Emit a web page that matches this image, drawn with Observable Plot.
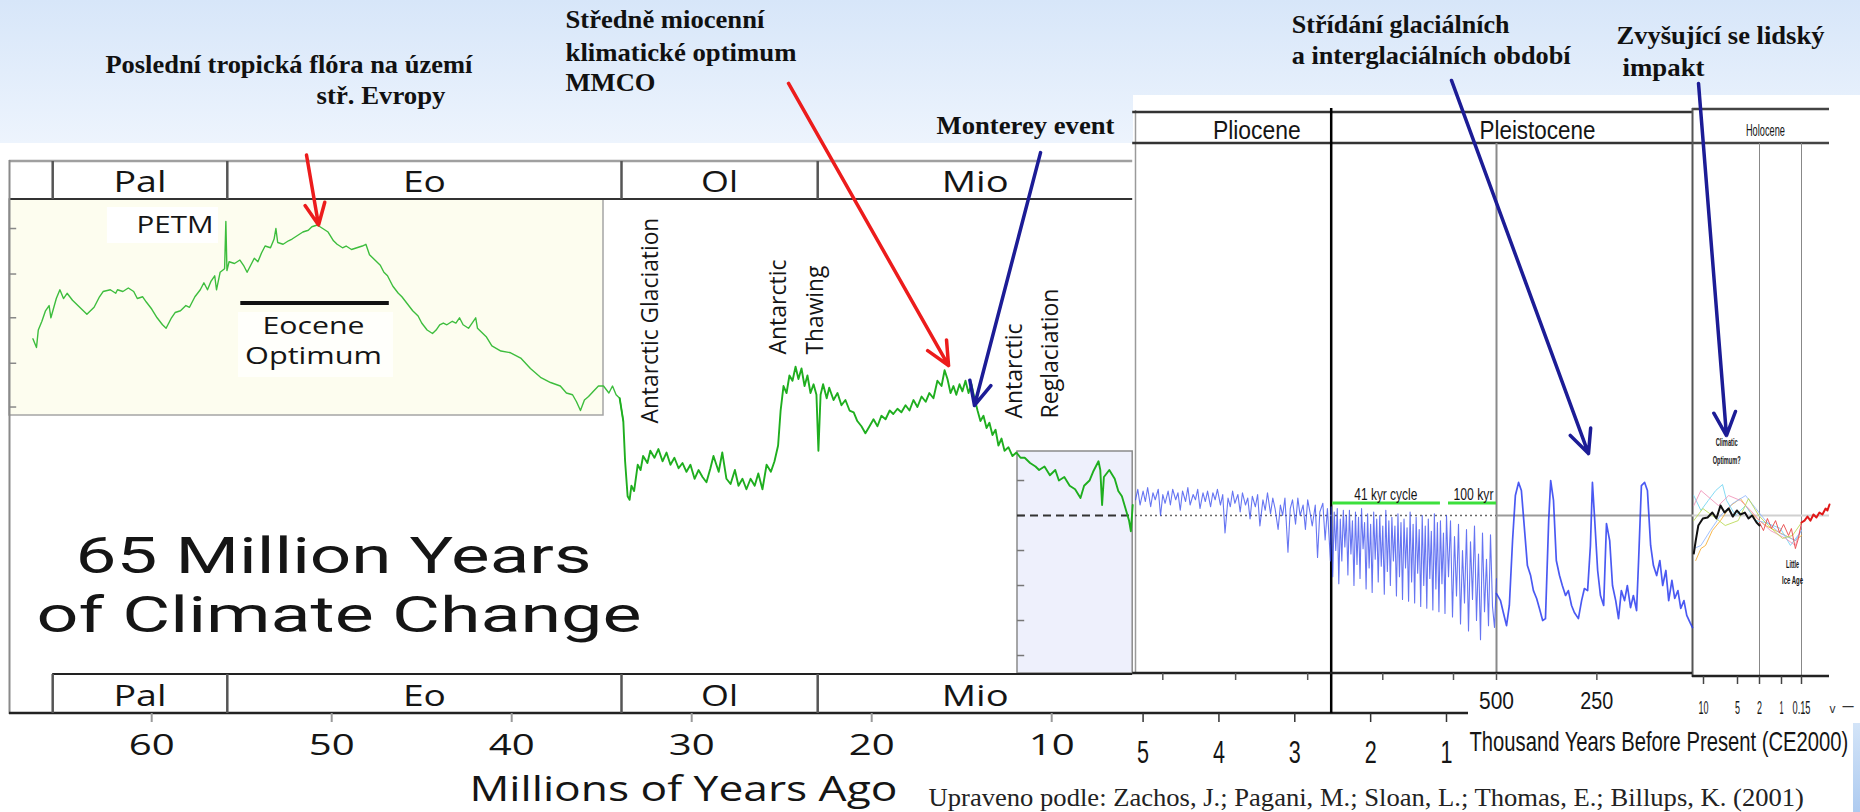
<!DOCTYPE html>
<html><head><meta charset="utf-8">
<script src="https://cdn.jsdelivr.net/npm/d3@7"></script>
<script src="https://cdn.jsdelivr.net/npm/@observablehq/plot@0.6"></script>
<style>
html,body{margin:0;padding:0;background:#fff;}
#wrap{position:relative;width:1860px;height:812px;overflow:hidden;background:#fff;}
#band{position:absolute;left:0;top:0;width:1860px;height:143px;background:linear-gradient(#d7e6f9,#edf4fd);}
#whiteTop{position:absolute;left:1133px;top:95px;width:727px;height:60px;background:#fff;}
#strip{position:absolute;left:1853px;top:723px;width:7px;height:89px;background:linear-gradient(#d3e4f8,#aecbf0);}
#chart{position:absolute;left:0;top:0;}
</style></head>
<body><div id="wrap"><div id="band"></div><div id="whiteTop"></div><div id="strip"></div><div id="chart"></div></div>
<script>
// ---------- DATA ----------
const epochNames = ["Pal", "Eo", "Ol", "Mio"];
const epochStart = [65.5, 55.8, 33.9, 23.0];
const epochEnd = [55.8, 33.9, 23.0, 5.5];
const ageTicks = [60, 50, 40, 30, 20, 10];
const leftTickT = [16.4, 13.8, 11.3, 8.7, 6.2];
const lavTickT = [2, 0, -2, -4, -6, -8];

const greenCurve = [
[66.6,10.1],[66.4,9.6],[66.3,10.6],[66.1,11.1],[65.9,11.7],[65.7,12.0],[65.6,11.3],[65.3,12.4],[65.1,12.9],[64.9,12.4],[64.7,12.7],[64.4,12.3],[64.1,12.0],[63.8,11.7],[63.6,11.5],[63.2,11.9],[62.9,12.5],[62.7,12.8],[62.3,12.9],[62.0,12.7],[61.9,12.9],[61.6,12.8],[61.3,13.0],[61.0,12.8],[60.8,12.4],[60.5,12.5],[60.3,12.2],[60.0,11.8],[59.7,11.3],[59.4,10.9],[59.2,10.7],[58.9,11.3],[58.7,11.6],[58.4,11.7],[58.1,12.0],[57.9,11.9],[57.6,12.5],[57.3,12.9],[57.1,13.3],[56.9,12.9],[56.7,13.4],[56.5,13.7],[56.4,12.9],[56.2,13.9],[55.95,14.1],[55.88,16.8],[55.82,14.0],[55.7,14.5],[55.4,14.4],[55.1,14.6],[54.9,14.3],[54.7,13.9],[54.6,14.1],[54.3,14.7],[54.1,14.5],[53.9,15.0],[53.7,15.4],[53.4,15.3],[53.2,15.8],[53.1,16.4],[53.0,15.6],[52.7,15.5],[52.4,15.7],[52.2,15.8],[51.9,16.0],[51.6,16.2],[51.3,16.3],[51.1,16.5],[50.8,16.6],[50.5,16.4],[50.2,16.2],[49.9,15.7],[49.7,15.5],[49.4,15.3],[49.2,15.4],[48.9,15.2],[48.6,15.3],[48.3,15.4],[48.1,15.5],[47.9,14.9],[47.6,14.6],[47.3,14.3],[47.1,13.9],[46.9,13.7],[46.6,13.1],[46.3,12.7],[46.1,12.5],[45.8,12.1],[45.5,11.7],[45.2,11.4],[45.0,11.0],[44.7,10.6],[44.4,10.4],[44.2,10.6],[44.0,10.9],[43.8,11.0],[43.6,10.9],[43.3,11.1],[43.1,11.0],[42.9,11.3],[42.7,10.9],[42.4,10.7],[42.2,11.0],[42.0,11.3],[41.9,10.7],[41.7,10.5],[41.4,10.2],[41.1,9.7],
[40.6,9.4],[40.06,9.3],[39.5,9.0],[38.96,8.4],[38.4,7.9],[37.84,7.6],[37.3,7.4],[36.96,7.0],[36.62,6.9],[36.4,6.5],[36.18,6.0],[35.96,6.6],[35.73,6.8],[35.46,7.1],[35.18,7.4],[34.9,7.4],[34.6,7.0],[34.4,7.4],[34.2,6.9],[34.0,6.7],
[33.8,5.4],[33.7,3.1],[33.56,1.1],[33.45,0.9],[33.35,1.7],[33.2,1.4],[33.0,2.9],[32.84,2.6],[32.7,3.4],[32.46,3.0],[32.3,3.7],[32.07,3.3],[31.85,3.8],[31.62,3.1],[31.4,3.6],[31.18,2.9],[30.96,3.3],[30.73,2.7],[30.51,3.0],[30.29,2.5],[30.07,2.9],[29.84,2.1],[29.62,2.6],[29.4,2.2],[29.18,1.9],[28.96,2.7],[28.79,3.4],[28.5,2.5],[28.3,3.6],[28.07,2.1],[27.84,1.8],[27.6,2.6],[27.4,1.7],[27.18,2.1],[26.96,1.5],[26.73,2.1],[26.5,1.7],[26.3,2.4],[26.07,1.5],[25.84,2.9],[25.6,2.5],[25.4,3.1],[25.2,4.0],[25.06,6.0],[24.9,7.4],[24.73,7.0],[24.57,8.0],[24.4,7.7],[24.23,8.5],[24.07,7.8],[23.9,8.4],[23.73,7.4],[23.57,8.0],[23.4,7.0],[23.23,7.5],[23.07,6.9],[22.96,3.7],[22.84,6.9],[22.7,7.5],[22.5,6.7],[22.36,7.3],[22.12,6.6],[21.9,7.0],[21.68,6.3],[21.46,6.6],[21.23,6.0],[21.0,5.9],[20.8,5.4],[20.57,5.1],[20.35,4.7],[20.12,5.1],[19.9,5.5],[19.68,5.1],[19.46,5.7],[19.23,5.5],[19.0,6.0],[18.8,5.8],[18.57,6.1],[18.35,5.9],[18.12,6.3],[17.9,6.0],[17.68,6.6],[17.46,6.2],[17.23,6.8],[17.0,6.5],[16.8,7.0],[16.57,6.7],[16.35,7.7],[16.12,7.4],[15.95,8.3],[15.79,7.8],[15.62,7.0],[15.46,7.4],[15.3,6.9],[15.12,7.5],[14.96,7.1],[14.79,7.7],[14.62,7.0],[14.46,7.5],[14.29,6.7],[14.12,6.0],[13.96,5.4],[13.79,5.7],[13.62,5.0],[13.46,5.3],[13.29,4.6],[13.12,4.9],[12.96,4.0],[12.79,4.4],[12.62,3.7],[12.4,3.9],[12.18,3.4],[11.96,3.6],[11.73,3.3],
[11.5,3.3],[11.2,3.0],[10.9,2.8],[10.7,2.6],[10.4,2.8],[10.1,2.3],[9.8,2.6],[9.6,2.0],[9.3,2.2],[9.0,1.7],[8.7,1.5],[8.4,1.0],[8.2,1.7],[7.9,2.0],[7.7,2.5],[7.4,3.1],[7.3,2.6],[7.2,0.6],[7.1,2.2],[6.8,2.6],[6.5,2.1],[6.3,1.4],[6.1,1.1],[5.9,0.4],[5.7,-0.3],[5.6,-0.9],[5.5,0.6]
];

const plioCurve = [
[5.10,0.9],[5.07,1.5],[5.04,0.6],[5.00,1.4],[4.97,0.8],[4.94,1.6],[4.90,0.5],[4.87,1.3],[4.84,0.9],[4.80,1.5],[4.77,0.0],[4.74,1.2],[4.71,0.7],[4.67,1.4],[4.64,0.6],[4.61,1.5],[4.57,0.9],[4.54,1.3],[4.51,0.3],[4.48,1.4],[4.44,0.8],[4.41,1.6],[4.38,0.6],[4.34,1.2],[4.31,0.9],[4.28,1.5],[4.25,0.4],[4.21,1.3],[4.18,0.8],[4.15,1.4],[4.11,0.5],[4.08,1.3],[4.05,0.9],[4.02,1.5],[3.98,0.6],[3.95,1.2],[3.92,-1.0],[3.88,1.0],[3.85,0.5],[3.82,1.4],[3.79,0.7],[3.75,1.2],[3.72,0.2],[3.69,1.3],[3.65,0.6],[3.62,1.0],[3.59,-0.2],[3.56,1.1],[3.52,0.5],[3.49,1.2],[3.46,-0.6],[3.42,0.9],[3.39,0.3],[3.36,1.3],[3.32,0.1],[3.29,1.0],[3.26,0.4],[3.22,-0.8],[3.19,0.6],[3.16,0.0],[3.13,1.0],[3.09,-2.1],[3.06,0.4],[3.03,0.9],[2.99,-0.5],[2.96,1.0],[2.93,0.0],[2.89,0.6],[2.86,-0.8],[2.83,0.9],[2.80,0.2],[2.77,-0.6],[2.73,0.6],[2.70,-2.4],[2.67,0.2],[2.63,0.7],[2.60,-1.4],[2.57,0.4],[2.53,-2.6]
];
const pleistoCurve = [
[2.52,0.5],[2.50,-3.5],[2.48,0.2],[2.46,-2.0],[2.44,0.4],[2.42,-3.9],[2.40,-0.2],[2.38,-2.6],[2.36,0.3],[2.34,-1.8],[2.32,0.0],[2.30,-3.4],[2.28,0.3],[2.26,-2.2],[2.24,-0.3],[2.22,-4.0],[2.20,0.2],[2.18,-2.8],[2.16,-0.1],[2.14,-3.6],[2.12,0.4],[2.10,-1.9],[2.08,-0.4],[2.06,-4.2],[2.04,0.1],[2.02,-3.0],[2.00,-0.5],[1.98,-4.4],[1.96,0.2],[1.94,-2.5],[1.92,-0.2],[1.90,-3.8],[1.88,0.0],[1.86,-2.9],[1.84,-0.6],[1.82,-4.5],[1.80,0.3],[1.78,-3.2],[1.76,-0.3],[1.74,-4.0],[1.72,-0.1],[1.70,-2.6],[1.68,-0.6],[1.66,-4.6],[1.64,0.1],[1.62,-3.5],[1.60,-0.4],[1.58,-4.8],[1.56,-0.2],[1.54,-3.0],[1.52,-0.7],[1.50,-4.9],[1.48,0.2],[1.46,-3.8],[1.44,-0.5],[1.42,-5.0],[1.40,-0.1],[1.38,-3.3],[1.36,-0.8],[1.34,-5.2],[1.32,0.0],[1.30,-4.0],[1.28,-0.6],[1.26,-5.3],[1.24,-0.2],[1.22,-3.6],[1.20,-0.9],[1.18,-5.4],[1.16,0.1],[1.14,-4.2],[1.12,-0.4],[1.10,-5.5],[1.08,-0.3],[1.06,-3.9],[1.04,-1.0],[1.02,-5.6],[1.00,0.0],
[0.98,-3.5],[0.96,-0.3],[0.94,-5.8],[0.92,-1.2],[0.90,-4.6],[0.88,-0.5],[0.86,-6.2],[0.84,-2.0],[0.82,-5.0],[0.80,-0.8],[0.78,-6.6],[0.76,-1.5],[0.74,-4.8],[0.72,-0.6],[0.70,-6.0],[0.68,-2.2],[0.66,-7.1],[0.64,-1.0],[0.62,-5.5],[0.60,-2.5],[0.58,-6.3],[0.56,-1.1],[0.54,-5.2],[0.52,-6.4],[0.50,-3.6]
];
const lateCurve = [
[500,-4.46],[490,-4.86],[483,-5.54],[475,-6.29],[468,-5.14],[460,-1.43],[453,1.14],[445,1.89],[438,1.43],[430,-0.86],[423,-2.86],[415,-3.43],[408,-4.29],[400,-4.74],[393,-5.31],[385,-6.0],[378,-5.89],[370,-0.29],[365,2.0],[358,0.86],[351,-2.57],[343,-3.43],[336,-4.0],[328,-4.57],[321,-4.29],[313,-5.14],[306,-5.54],[296,-5.89],[288,-4.86],[281,-4.17],[273,-4.29],[266,-1.71],[261,1.89],[256,0.0],[248,-3.14],[241,-4.57],[233,-5.14],[226,-0.46],[218,-1.43],[211,-4.0],[203,-4.86],[196,-5.89],[189,-4.29],[181,-4.86],[174,-4.0],[166,-5.26],[159,-4.57],[151,-5.43],[146,-2.57],[139,1.71],[131,1.89],[124,1.43],[116,-1.71],[109,-2.86],[101,-3.43],[93,-2.57],[86,-4.0],[78,-3.14],[71,-4.86],[63,-3.71],[56,-4.74],[48,-4.29],[41,-5.31],[33,-4.86],[26,-5.71],[18,-6.11],[11.7,-6.4]
];
const holoMean = [[11.5,-2.17],[11.2,-1.43],[10.8,-0.57],[10.1,-0.17],[9.4,-0.11],[8.7,0.17],[8.1,-0.17],[7.5,0.57],[6.9,0.17],[6.3,0.4],[5.7,-0.06],[5.1,0.29],[4.6,0.06],[4.0,0.17],[3.5,-0.17],[3.0,0.0],[2.4,-0.4],[2.0,-0.57]];
const holoOrange = [[11.2,-2.57],[10.4,-1.89],[9.7,-1.71],[8.7,-0.86],[7.5,-0.29],[6.0,0.57],[4.6,0.97],[3.2,0.17],[2.0,-0.29],[1.73,-0.57],[1.27,-0.86],[0.83,-1.14],[0.41,-1.43],[0.15,-1.14]];
const holoCyan = [[11.5,1.14],[10.4,0.29],[9.3,0.86],[8.2,1.43],[7.2,1.77],[6.6,0.86],[5.3,0.0],[3.9,0.57],[2.5,-0.29],[1.73,-0.4],[1.05,-0.74],[0.62,-1.71],[0.15,-0.86]];
const holoPink = [[11.5,0.57],[10.4,1.43],[9.0,0.97],[7.8,0.57],[6.3,1.14],[4.6,0.86],[3.2,0.29],[2.0,-0.29],[1.5,-0.86],[0.83,-1.31],[0.41,-1.71],[0.15,-0.57]];
const holoBlue = [[11.5,-1.89],[10.4,-1.71],[9.0,-0.86],[7.5,0.0],[5.7,0.69],[3.9,1.14],[2.5,0.4],[1.73,-0.29],[1.05,-1.03],[0.41,-1.43],[0.15,-0.86]];
const holoYellow = [[11.5,-0.29],[10.1,0.4],[8.7,0.0],[6.8,-0.57],[4.9,-0.29],[3.5,0.97],[2.1,0.0],[1.6,-0.57],[0.96,-1.31],[0.53,-1.14],[0.15,-0.4]];
const holoRedProxy = [[2.0,-0.4],[1.82,-0.86],[1.64,-0.17],[1.45,-0.74],[1.27,-0.29],[1.09,-0.97],[0.91,-0.51],[0.70,-1.14],[0.58,-0.74],[0.41,-1.89],[0.28,-1.31],[0.15,-0.4]];
const instrumental = [[0.15,-0.4],[0.134,-0.29],[0.118,-0.06],[0.102,-0.29],[0.086,0.06],[0.070,-0.11],[0.054,0.17],[0.038,0.06],[0.021,0.4],[0.011,0.29],[0.0,0.63]];

const plioTicks = [5, 4, 3, 2, 1];
const plioMinorTicks = [4.74, 3.78, 2.83, 1.84, 0.93];
const kyrTicks = [500, 250];
const holoTicks = [10, 5, 2, 1, 0.15];
const holoTickLabels = ["10", "5", "2", "1", "0.15"];
const plioPleistoBoundary = 2.52, pleistoHoloBoundary = 0.0117;

const redArrows = [
  {x1: 51.4, y1: 20.6, x2: 50.73, y2: 16.6},
  {x1: 24.62, y1: 24.69, x2: 15.73, y2: 8.57}
];
const navyArrows = [
  {x1: 10.62, y1: 20.74, x2: 14.29, y2: 6.29},
  {x1: 0.95, y1: 24.86, x2: 0.2708, y2: 3.54},
  {x1: 0.01077, y1: 24.69, x2: 0.00662, y2: 4.57}
];

// ---------- CHART ----------
const W = 1860, H = 812;
const timeWarp = d3.scaleLinear()
  .domain([67.9, 5.5, 5.1, 1, 0.5, 0.0117, 0.010, 0.005, 0.002, 0.001, 0.00015, 0])
  .range([9, 1132.2, 1135, 1446, 1496, 1692, 1703, 1737, 1759, 1781, 1801, 1829]);
const X = v => timeWarp(v);

const hl = (x1, x2, y, w, color) => Plot.rect([0], {x1: () => X(x1), x2: () => X(x2), insetTop: y - w / 2, insetBottom: H - y - w / 2, fill: color});
const vl = (xs, top, bottom, w, color) => Plot.ruleX(xs, {x: d => X(d), insetTop: top, insetBottom: H - bottom, stroke: color, strokeWidth: w});
const box = (x1, x2, top, bottom, o) => Plot.rect([0], {x1: () => X(x1), x2: () => X(x2), insetTop: top, insetBottom: H - bottom, ...o});
const hz = (yv, x1, x2, o) => Plot.ruleY(yv, {y: d => d, x1: () => X(x1), x2: () => X(x2), ...o});

const widthMap = new Map();
function T(items, o) {
  for (const d of items) widthMap.set(d.t + "|" + o.fontSize, d.w);
  return Plot.text(items, {x: d => X(d.x), text: d => d.t, frameAnchor: "top", lineAnchor: "bottom", fill: "#151515", ...o});
}
const SANS = "'Open Sans', 'DejaVu Sans', sans-serif";
const TITLE = "Roboto, 'Open Sans', sans-serif";
const ARIAL = "'Liberation Sans', Arial, sans-serif";
const SERIF = "'Liberation Serif', 'Times New Roman', serif";

const epochMid = epochNames.map((n, i) => ({t: n, x: (epochStart[i] + epochEnd[i]) / 2, w: [53, 43, 37, 67][i]}));
const xy = {x: d => X(d[0]), y: d => d[1]};
const xyk = {x: d => X(d[0] / 1000), y: d => d[1]};
const serifBold = {fontSize: 26, fontWeight: "bold", fontFamily: SERIF, textAnchor: "start", fill: "#111"};

const marks = [
  box(67.9, 34.9, 199, 415, {fill: "#fdfdef", stroke: "#a5a5a5", strokeWidth: 1.5}),
  box(11.9, 5.5, 451, 673, {fill: "#eef0fc", stroke: "#8a8a8a", strokeWidth: 1.5}),
  box(62.46, 56.29, 207, 243, {fill: "#ffffff"}),
  box(55.18, 46.57, 312, 377, {fill: "#fffffb"}),
  hl(67.9, 5.5, 161, 2.5, "#a0a0a0"),
  hl(67.9, 5.5, 199, 2, "#333"),
  vl([67.9], 160, 714, 2, "#8a8a8a"),
  vl(epochStart, 161, 199, 2.5, "#555"),
  hl(65.5, 5.5, 674, 2, "#222"),
  hl(67.9, 0.78, 713, 2.5, "#222"),
  vl(epochStart, 674, 713, 2.5, "#555"),
  vl(ageTicks, 713, 722, 2, "#9a9a9a"),
  hz(leftTickT, 67.9, 67.5, {stroke: "#888", strokeWidth: 1.5}),
  hz(lavTickT, 11.9, 11.5, {stroke: "#777", strokeWidth: 1.5}),
  hz([0], 11.9, 5.5, {stroke: "#333", strokeWidth: 2, strokeDasharray: "8,5"}),
  box(55.05, 46.8, 301, 305, {fill: "#111"}),
  vl([5.1], 110, 673, 1.5, "#9a9a9a"),
  hl(5.5, pleistoHoloBoundary, 112, 2.5, "#333"),
  hl(5.5, pleistoHoloBoundary, 143, 2.5, "#333"),
  hl(pleistoHoloBoundary, 0, 109, 2.5, "#444"),
  hl(pleistoHoloBoundary, 0, 143, 2.5, "#444"),
  vl([pleistoHoloBoundary], 108, 677, 2, "#555"),
  vl([0.002, 0.00015], 143, 677, 1, "#888"),
  vl([0.5], 143, 673, 2, "#8a8a8a"),
  vl([plioPleistoBoundary], 108, 713, 2.5, "#000"),
  hz([0], 5.1, 0.5, {stroke: "#666", strokeWidth: 1.5, strokeDasharray: "2,3"}),
  hz([0], 0.5, pleistoHoloBoundary, {stroke: "#9a9a9a", strokeWidth: 2}),
  hz([0], pleistoHoloBoundary, 0, {stroke: "#d0d0d0", strokeWidth: 2}),
  box(2.50, 1.08, 501.5, 504.5, {fill: "#3ce03c"}),
  box(0.98, 0.5, 501.5, 504.5, {fill: "#3ce03c"}),
  hl(5.5, pleistoHoloBoundary, 673, 2.5, "#222"),
  vl([...plioMinorTicks, ...kyrTicks.map(k => k / 1000)], 673, 680, 1.5, "#555"),
  vl(plioTicks, 713, 722, 1.5, "#333"),
  hl(pleistoHoloBoundary, 0, 676, 2.5, "#222"),
  vl(holoTicks.map(k => k / 1000), 676, 684, 1.5, "#444"),
  // data
  Plot.line(greenCurve, {...xy, filter: d => d[0] >= 33.8, stroke: "#3dbd3d", strokeWidth: 1.4}),
  Plot.line(greenCurve, {...xy, filter: d => d[0] <= 34.0, stroke: "#1fae1f", strokeWidth: 1.9}),
  Plot.line([...plioCurve, ...pleistoCurve], {...xy, stroke: "#3347ee", strokeWidth: 1.1, strokeOpacity: 0.75}),
  Plot.line(lateCurve, {...xyk, stroke: "#2a3cf0", strokeWidth: 1.7, strokeOpacity: 0.85}),
  Plot.line(holoOrange, {...xyk, stroke: "#f5a623", strokeWidth: 1, strokeOpacity: 0.8}),
  Plot.line(holoCyan, {...xyk, stroke: "#6fd3f2", strokeWidth: 1, strokeOpacity: 0.85}),
  Plot.line(holoPink, {...xyk, stroke: "#f08cb4", strokeWidth: 1, strokeOpacity: 0.8}),
  Plot.line(holoBlue, {...xyk, stroke: "#8fb6ff", strokeWidth: 1, strokeOpacity: 0.85}),
  Plot.line(holoYellow, {...xyk, stroke: "#b8d850", strokeWidth: 1, strokeOpacity: 0.85}),
  Plot.line(holoRedProxy, {...xyk, stroke: "#e84040", strokeWidth: 1, strokeOpacity: 0.85}),
  Plot.line(holoMean, {...xyk, stroke: "#111", strokeWidth: 2}),
  Plot.line(instrumental, {...xyk, stroke: "#e01818", strokeWidth: 2}),
  // left panel texts
  T(epochMid, {dy: 191, fontSize: 30, fontFamily: SANS, textAnchor: "middle"}),
  T(epochMid, {dy: 705, fontSize: 30, fontFamily: SANS, textAnchor: "middle"}),
  T(ageTicks.map(a => ({t: String(a), x: a, w: 46})), {dy: 754, fontSize: 29, fontFamily: SANS, textAnchor: "middle"}),
  T([{t: "PETM", x: 56.57, w: 77}], {dy: 232, fontSize: 24, fontFamily: SANS, textAnchor: "end"}),
  T([{t: "Eocene", x: 51.01, w: 102}], {dy: 333, fontSize: 23, fontFamily: SANS, textAnchor: "middle"}),
  T([{t: "Optimum", x: 51.01, w: 137}], {dy: 363, fontSize: 23, fontFamily: SANS, textAnchor: "middle"}),
  T([{t: "Antarctic Glaciation", x: 32.29, w: 206}], {dy: 423, fontSize: 23, fontFamily: SANS, rotate: -90, textAnchor: "start", lineAnchor: "middle"}),
  T([{t: "Antarctic", x: 25.18, w: 94}, {t: "Thawing", x: 23.12, w: 89}], {dy: 354, fontSize: 23, fontFamily: SANS, rotate: -90, textAnchor: "start", lineAnchor: "middle"}),
  T([{t: "Antarctic", x: 12.07, w: 95}, {t: "Reglaciation", x: 10.07, w: 130}], {dy: 418, fontSize: 23, fontFamily: SANS, rotate: -90, textAnchor: "start", lineAnchor: "middle"}),
  T([{t: "65 Million Years", x: 64.23, w: 516}], {dy: 572, fontSize: 49.5, fontFamily: TITLE, textAnchor: "start"}),
  T([{t: "of Climate Change", x: 66.4, w: 605}], {dy: 631, fontSize: 49.5, fontFamily: TITLE, textAnchor: "start"}),
  T([{t: "Millions of Years Ago", x: 30.46, w: 428}], {dy: 800, fontSize: 35, fontFamily: SANS, textAnchor: "middle"}),
  // Czech annotations
  T([{t: "Poslední tropická flóra na území", x: 62.57, w: 367}], {dy: 72, ...serifBold}),
  T([{t: "stř. Evropy", x: 50.84, w: 129}], {dy: 103, ...serifBold}),
  T([{t: "Středně miocenní", x: 37.01, w: 199}], {dy: 27, ...serifBold}),
  T([{t: "klimatické optimum", x: 37.01, w: 231}], {dy: 60, ...serifBold}),
  T([{t: "MMCO", x: 37.01, w: 90}], {dy: 90, ...serifBold}),
  T([{t: "Monterey event", x: 16.4, w: 178}], {dy: 133, ...serifBold}),
  T([{t: "Střídání glaciálních", x: 3.04, w: 218}], {dy: 32, ...serifBold}),
  T([{t: "a interglaciálních období", x: 3.04, w: 279}], {dy: 63, ...serifBold}),
  T([{t: "Zvyšující se lidský", x: 0.201, w: 208}], {dy: 43, ...serifBold}),
  T([{t: "impakt", x: 0.186, w: 82}], {dy: 75, ...serifBold}),
  T([{t: "Upraveno podle: Zachos, J.; Pagani, M.; Sloan, L.; Thomas, E.; Billups, K. (2001)", x: 16.84, w: 876}], {dy: 805, fontSize: 25, fontFamily: SERIF, textAnchor: "start", fill: "#222"}),
  // right panel texts
  T([{t: "Pliocene", x: 3.5, w: 88}, {t: "Pleistocene", x: 0.398, w: 116}], {dy: 138, fontSize: 25, fontFamily: ARIAL, textAnchor: "middle"}),
  T([{t: "Holocene", x: 0.00173, w: 39}], {dy: 135, fontSize: 16, fontFamily: ARIAL, textAnchor: "middle"}),
  T([{t: "41 kyr cycle", x: 1.80, w: 63}, {t: "100 kyr", x: 0.73, w: 40}], {dy: 499, fontSize: 17, fontFamily: ARIAL, textAnchor: "middle"}),
  T(kyrTicks.map((k, i) => ({t: String(k), x: k / 1000, w: [35, 33][i]})), {dy: 708, fontSize: 23, fontFamily: ARIAL, textAnchor: "middle"}),
  T(plioTicks.map(a => ({t: String(a), x: a, w: 12})), {dy: 762, fontSize: 32, fontFamily: ARIAL, textAnchor: "middle"}),
  T(holoTicks.map((k, i) => ({t: holoTickLabels[i], x: k / 1000, w: [10, 5, 5, 4, 18][i]})), {dy: 713, fontSize: 19, fontFamily: ARIAL, textAnchor: "middle"}),
  T([{t: "Thousand Years Before Present (CE2000)", x: 0.77, w: 379}], {dy: 750, fontSize: 27, fontFamily: ARIAL, textAnchor: "start"}),
  T([{t: "Climatic", x: 0.0066, w: 22}], {dy: 445, fontSize: 10, fontWeight: "bold", fontFamily: ARIAL, textAnchor: "middle"}),
  T([{t: "Optimum?", x: 0.0066, w: 28}], {dy: 463, fontSize: 10, fontWeight: "bold", fontFamily: ARIAL, textAnchor: "middle"}),
  T([{t: "Little", x: 0.00053, w: 13}], {dy: 567, fontSize: 10, fontWeight: "bold", fontFamily: ARIAL, textAnchor: "middle"}),
  T([{t: "Ice Age", x: 0.00053, w: 21}], {dy: 583, fontSize: 10, fontWeight: "bold", fontFamily: ARIAL, textAnchor: "middle"}),
  Plot.text(["v"], {frameAnchor: "top-right", dx: -25, dy: 712, lineAnchor: "bottom", fontSize: 12, fontFamily: ARIAL, fill: "#333"}),
  Plot.text(["–"], {frameAnchor: "top-right", dx: -7, dy: 711, lineAnchor: "bottom", fontSize: 20, fontFamily: ARIAL, fill: "#333"}),
  // arrows
  Plot.arrow(redArrows, {x1: d => X(d.x1), y1: "y1", x2: d => X(d.x2), y2: "y2", stroke: "#ec1c1c", strokeWidth: 3.5, headLength: 11, headAngle: 50}),
  Plot.arrow(navyArrows, {x1: d => X(d.x1), y1: "y1", x2: d => X(d.x2), y2: "y2", stroke: "#1c1c96", strokeWidth: 3.5, headLength: 11, headAngle: 50})
];

const svg = Plot.plot({
  width: W, height: H,
  marginTop: 0, marginRight: 0, marginBottom: 0, marginLeft: 0,
  x: {type: "linear", domain: [0, W], range: [0, W], axis: null},
  y: {type: "linear", domain: [-16.97, 29.43], range: [H, 0], axis: null},
  style: {background: "transparent", overflow: "visible"},
  marks
});
document.getElementById("chart").appendChild(svg);
// fit each label to the width it has in the reference (horizontal scale only)
svg.querySelectorAll("text").forEach(n => {
  let g = n.parentNode, fs = null;
  while (g && g !== svg && fs == null) { fs = g.getAttribute && g.getAttribute("font-size"); g = g.parentNode; }
  const w = widthMap.get(n.textContent + "|" + (fs != null ? parseFloat(fs) : ""));
  if (!w) return;
  const nat = n.getComputedTextLength();
  if (!(nat > 0)) return;
  const s = w / nat;
  const ax = parseFloat(n.getAttribute("x") || 0), ay = parseFloat(n.getAttribute("y") || 0);
  const t = n.getAttribute("transform") || "";
  n.setAttribute("transform", `${t} translate(${ax},${ay}) scale(${s.toFixed(4)},1) translate(${-ax},${-ay})`);
});
</script></body></html>
